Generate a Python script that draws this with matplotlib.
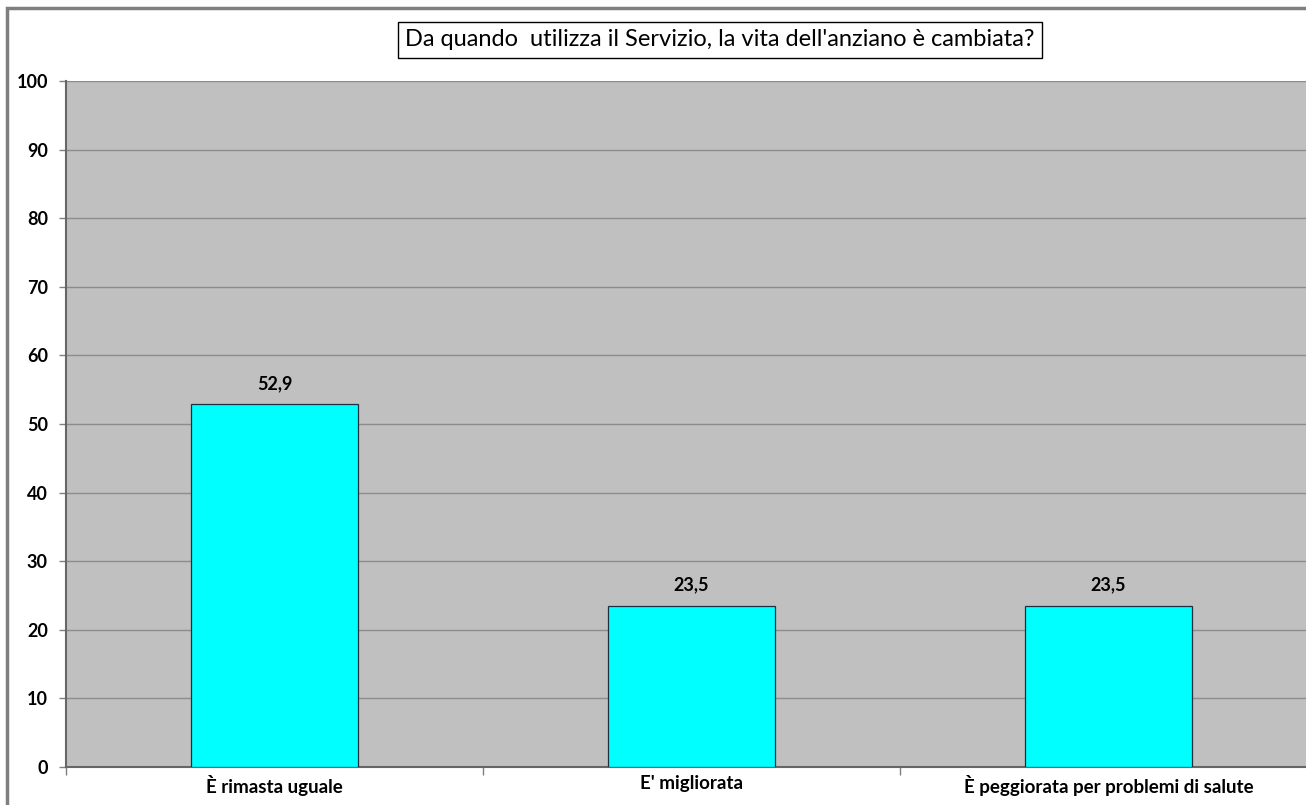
import matplotlib
matplotlib.use("Agg")
from matplotlib import pyplot as plt
from matplotlib.patches import Rectangle

categories = ["È rimasta uguale", "E' migliorata", "È peggiorata per problemi di salute"]
values = [52.9, 23.5, 23.5]
value_labels = ["52,9", "23,5", "23,5"]
yticks = list(range(0, 101, 10))
title = "Da quando  utilizza il Servizio, la vita dell'anziano è cambiata?"

plt.rcParams["font.family"] = ["Lato", "DejaVu Sans"]

W, H = 1306, 805
fig = plt.figure(figsize=(W / 100, H / 100), dpi=100)
fig.patch.set_facecolor("white")

# outer chart border (only left and top visible in reference)
fig.add_artist(Rectangle((7 / W, -0.1), 1.2, (805 - 8) / H + 0.1,
                         transform=fig.transFigure, fill=False,
                         edgecolor="#7f7f7f", linewidth=2.5))

ax = fig.add_axes([66 / W, 38 / H, 1251 / W, 686 / H])
ax.set_facecolor("#c0c0c0")
x = range(len(categories))
ax.bar(x, values, width=0.4, color="#00ffff", edgecolor="#1f2f3f", linewidth=0.9, zorder=3)
for xi, v, lab in zip(x, values, value_labels):
    ax.text(xi, v + 1.8, lab, ha="center", va="bottom", fontsize=13, fontweight="bold")

ax.set_xlim(-0.5, 2.5)
ax.set_ylim(0, 100)
ax.set_yticks(yticks)
ax.set_yticklabels([str(t) for t in yticks], fontsize=13, fontweight="bold")
ax.yaxis.grid(True, color="#8c8c8c", linewidth=1.0, zorder=0)
ax.set_axisbelow(True)
ax.tick_params(axis="y", length=5, width=1, color="#7f7f7f", pad=8, direction="out")

ax.set_xticks([-0.5, 0.5, 1.5])
ax.set_xticklabels([])
ax.tick_params(axis="x", length=6, width=1, color="#7f7f7f", direction="out")
ax.set_xticks(list(x), minor=True)
ax.set_xticklabels(categories, minor=True, fontsize=13.5, fontweight="bold")
ax.tick_params(axis="x", which="minor", length=0, pad=6)

for s in ["top", "right"]:
    ax.spines[s].set_visible(False)
ax.spines["left"].set_color("#666666")
ax.spines["bottom"].set_color("#666666")
ax.spines["left"].set_linewidth(1.5)
ax.spines["bottom"].set_linewidth(1.5)

fig.text(720 / W, 1 - 40 / H, title, ha="center", va="center", fontsize=17,
         bbox=dict(boxstyle="square,pad=0.3", facecolor="white", edgecolor="black", linewidth=1))

fig.savefig("out.png", dpi=100)
